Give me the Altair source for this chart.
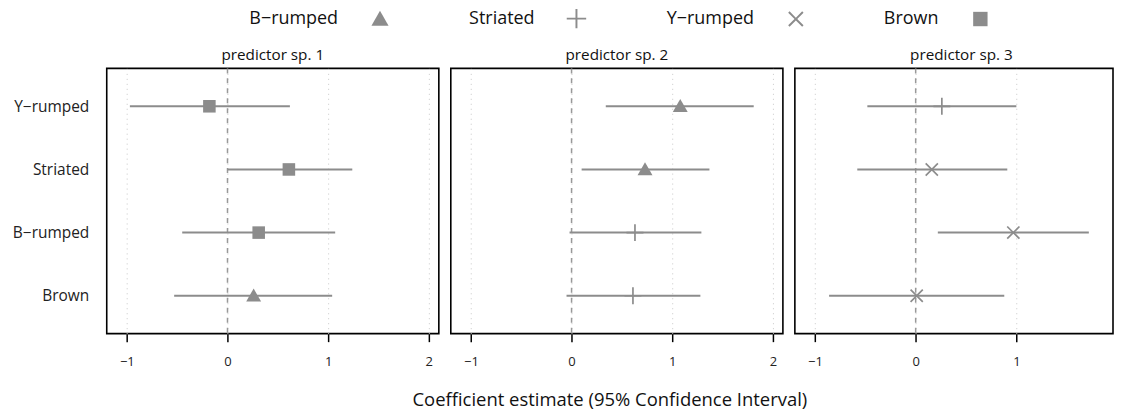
import altair as alt
import pandas as pd

FONT = "Open Sans"
GRAY = "#8c8c8c"

predictors = ["predictor sp. 1", "predictor sp. 2", "predictor sp. 3"]
responses = ["Y\u2212rumped", "Striated", "B\u2212rumped", "Brown"]
species = ["B\u2212rumped", "Striated", "Y\u2212rumped", "Brown"]

# values per panel, listed in the order of `responses`
p1_species = ["Brown", "Brown", "Brown", "B\u2212rumped"]
p1_est = [-0.18, 0.61, 0.31, 0.26]
p1_lo = [-0.97, 0.00, -0.45, -0.53]
p1_hi = [0.62, 1.24, 1.07, 1.04]

p2_species = ["B\u2212rumped", "B\u2212rumped", "Striated", "Striated"]
p2_est = [1.08, 0.73, 0.63, 0.61]
p2_lo = [0.34, 0.10, -0.02, -0.05]
p2_hi = [1.81, 1.37, 1.29, 1.28]

p3_species = ["Striated", "Y\u2212rumped", "Y\u2212rumped", "Y\u2212rumped"]
p3_est = [0.26, 0.16, 0.97, 0.01]
p3_lo = [-0.48, -0.58, 0.22, -0.86]
p3_hi = [1.00, 0.91, 1.72, 0.88]

x_ticks = [[-1, 0, 1, 2], [-1, 0, 1, 2], [-1, 0, 1]]
x_domains = [[-1.2, 2.1], [-1.2, 2.1], [-1.2, 1.96]]   # last panel is cut at the right edge
zero_line = [0]

rows = []
for pred, sp, est, lo, hi in [
    (predictors[0], p1_species, p1_est, p1_lo, p1_hi),
    (predictors[1], p2_species, p2_est, p2_lo, p2_hi),
    (predictors[2], p3_species, p3_est, p3_lo, p3_hi),
]:
    for r, s, e, l, h in zip(responses, sp, est, lo, hi):
        rows.append({"predictor": pred, "response": r, "species": s,
                     "est": e, "lo": l, "hi": h})
df = pd.DataFrame(rows)

# marker glyphs (unit square -1..1): filled triangle, thin plus, thin x, filled square
shape_paths = [
    "M0,-0.85L0.88,0.68L-0.88,0.68Z",
    "M-1,-0.1H-0.1V-1H0.1V-0.1H1V0.1H0.1V1H-0.1V0.1H-1Z",
    "M0,-0.141L0.649,-0.791L0.791,-0.649L0.141,0L0.791,0.649L0.649,0.791"
    "L0,0.141L-0.649,0.791L-0.791,0.649L-0.141,0L-0.791,-0.649L-0.649,-0.791Z",
    "M-0.74,-0.74H0.74V0.74H-0.74Z",
]

WIDTHS = [333, 333, 319]
STRIP_DX = [0, 0, 7.5]
H, STRIP = 266, 26


def x_axis(i, title):
    kw = dict(values=x_ticks[i], grid=True, gridDash=[1, 4], gridColor="#c8c8c8",
              gridWidth=1, domain=False, ticks=True, tickColor="black",
              tickWidth=1.5, tickSize=8, labelFontSize=13, labelColor="#222",
              labelPadding=14, labelFont=FONT, format="d")
    if title:
        kw.update(title=title, titleFontSize=18.5, titleFontWeight="normal",
                  titleColor="#111", titlePadding=22, titleFont=FONT, titleX=159)
    else:
        kw.update(title=None)
    return alt.Axis(**kw)


def plot_panel(i):
    sub = df[df.predictor == predictors[i]]
    xs = alt.Scale(domain=x_domains[i], nice=False, zero=False)
    ax = x_axis(i, "Coefficient estimate (95% Confidence Interval)" if i == 1 else None)
    if i == 0:
        yax = alt.Axis(title=None, ticks=False, domain=False, grid=False,
                       labelFontSize=15.5, labelColor="#222", labelPadding=18,
                       labelFont=FONT)
    else:
        yax = None
    ys = alt.Scale(type="point", padding=0.6)
    y = alt.Y("response:N", sort=responses, scale=ys, axis=yax)

    zero = alt.Chart(pd.DataFrame({"v": zero_line})).mark_rule(
        color="#999", strokeDash=[5, 5], strokeWidth=1.5
    ).encode(x=alt.X("v:Q", scale=xs, axis=ax))

    bars = alt.Chart(sub).mark_rule(color=GRAY, strokeWidth=2).encode(
        x=alt.X("lo:Q", scale=xs, axis=ax), x2="hi:Q", y=y)

    pts = alt.Chart(sub).mark_point(
        filled=True, color=GRAY, size=289, opacity=1, strokeWidth=0
    ).encode(
        x=alt.X("est:Q", scale=xs, axis=ax), y=y,
        shape=alt.Shape("species:N", scale=alt.Scale(domain=species, range=shape_paths),
                        legend=alt.Legend(
                            title=None, orient="none", direction="horizontal",
                            legendX=264, legendY=-34,
                            labelFontSize=18, labelColor="#111", labelFont=FONT,
                            labelAlign="right", labelOffset=alt.ExprRef(expr="-52"),
                            symbolSize=380, symbolFillColor=GRAY,
                            symbolStrokeWidth=0,
                            columnPadding=80)),
    )
    return alt.layer(zero, bars, pts).properties(width=WIDTHS[i], height=H)


def strip_panel(i):
    return alt.Chart(pd.DataFrame({"label": [predictors[i]]})).mark_text(
        fontSize=15.3, font=FONT, color="#111", baseline="middle", dx=STRIP_DX[i]
    ).encode(text="label:N").properties(width=WIDTHS[i], height=STRIP)


chart = alt.concat(
    strip_panel(0), strip_panel(1), strip_panel(2),
    plot_panel(0), plot_panel(1), plot_panel(2),
    columns=3, spacing={"row": 0, "column": 12}, bounds="flush",
).properties(
    padding={"left": 3, "top": 0, "right": 0, "bottom": 5}
).configure(font=FONT).configure_view(stroke="black", strokeWidth=1.6)

chart.save("out.html", embed_options={"renderer": "svg", "actions": False})
